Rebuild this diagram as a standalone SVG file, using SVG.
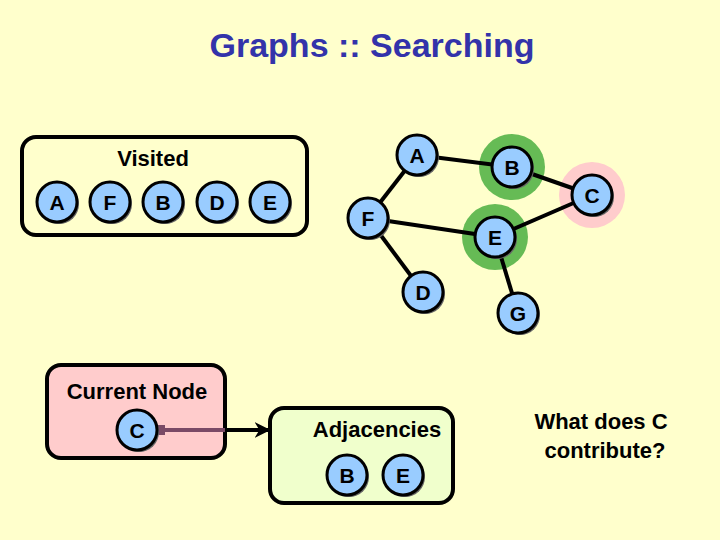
<svg xmlns="http://www.w3.org/2000/svg" width="720" height="540" viewBox="0 0 720 540">
<defs>
<style>
text{font-family:"Liberation Sans",Arial,sans-serif;font-weight:bold;text-anchor:middle;fill:#000}
.title{font-size:34px;fill:#3333aa}
.lbl{font-size:22px}
.nl{font-size:21px}
.nd{fill:#99ccff;stroke:#000;stroke-width:3}
.sh{fill:#666}
.box{stroke:#000;stroke-width:4}
.edge{stroke:#000;stroke-width:4;fill:none}
</style>
<g id="node-shape">
<circle class="sh" cx="2" cy="2" r="20"/>
<circle class="nd" cx="0" cy="0" r="20"/>
</g>
<marker id="arr" viewBox="0 0 10 10" refX="9" refY="5" markerWidth="4" markerHeight="4" orient="auto" markerUnits="strokeWidth">
<path d="M0,0 L10,5 L0,10 L3,5 z" fill="#000"/>
</marker>
<marker id="sq" viewBox="0 0 10 10" refX="5" refY="5" markerWidth="2.5" markerHeight="2.5" orient="auto" markerUnits="strokeWidth">
<rect x="0" y="0" width="10" height="10" fill="#7a4a66"/>
</marker>
</defs>
<rect width="720" height="540" fill="#ffffcc"/>
<text class="title" x="372" y="57">Graphs :: Searching</text>

<g id="visited">
<rect class="box" x="22" y="137" width="285" height="98" rx="14" fill="#ffffcc"/>
<text class="lbl" x="153" y="166">Visited</text>
<g id="v-A"><use href="#node-shape" x="57" y="202"/><text class="nl" x="57" y="210">A</text></g>
<g id="v-F"><use href="#node-shape" x="110" y="202"/><text class="nl" x="110" y="210">F</text></g>
<g id="v-B"><use href="#node-shape" x="163" y="202"/><text class="nl" x="163" y="210">B</text></g>
<g id="v-D"><use href="#node-shape" x="217" y="202"/><text class="nl" x="217" y="210">D</text></g>
<g id="v-E"><use href="#node-shape" x="270" y="202"/><text class="nl" x="270" y="210">E</text></g>
</g>

<g id="halos">
<circle cx="512" cy="167" r="33" fill="#66bb55"/>
<circle cx="495" cy="237" r="33" fill="#66bb55"/>
<circle cx="592" cy="195" r="33" fill="#ffcccc"/>
</g>

<g id="connectors">
<line class="edge" x1="417" y1="155" x2="512" y2="167"/>
<line class="edge" x1="512" y1="167" x2="592" y2="195"/>
<line class="edge" x1="592" y1="195" x2="495" y2="237"/>
<line class="edge" x1="368" y1="218" x2="495" y2="237"/>
<line class="edge" x1="417" y1="155" x2="368" y2="218"/>
<line class="edge" x1="368" y1="218" x2="423" y2="292"/>
<line class="edge" x1="495" y1="237" x2="518" y2="313"/>
</g>

<g id="g-A"><use href="#node-shape" x="417" y="155"/><text class="nl" x="417" y="163">A</text></g>
<g id="g-B"><use href="#node-shape" x="512" y="167"/><text class="nl" x="512" y="175">B</text></g>
<g id="g-C"><use href="#node-shape" x="592" y="195"/><text class="nl" x="592" y="203">C</text></g>
<g id="g-F"><use href="#node-shape" x="368" y="218"/><text class="nl" x="368" y="226">F</text></g>
<g id="g-E"><use href="#node-shape" x="495" y="237"/><text class="nl" x="495" y="245">E</text></g>
<g id="g-D"><use href="#node-shape" x="423" y="292"/><text class="nl" x="423" y="300">D</text></g>
<g id="g-G"><use href="#node-shape" x="518" y="313"/><text class="nl" x="518" y="321">G</text></g>

<g id="current">
<rect class="box" x="47" y="365" width="178" height="93" rx="14" fill="#ffcccc"/>
<text class="lbl" x="137" y="399">Current Node</text>
</g>

<g id="adjacencies">
<rect class="box" x="270" y="408" width="183" height="95" rx="14" fill="#f0ffcc"/>
<text class="lbl" x="377" y="437" font-size="20px">Adjacencies</text>
<g id="a-B"><use href="#node-shape" x="347" y="475"/><text class="nl" x="347" y="483">B</text></g>
<g id="a-E"><use href="#node-shape" x="403" y="475"/><text class="nl" x="403" y="483">E</text></g>
</g>

<g id="link">
<line x1="160" y1="430" x2="225" y2="430" stroke="#7a4a66" stroke-width="4" marker-start="url(#sq)"/>
<line x1="225" y1="430" x2="269" y2="430" stroke="#000" stroke-width="4" marker-end="url(#arr)"/>
</g>

<g id="c-current"><use href="#node-shape" x="137" y="430"/><text class="nl" x="137" y="438">C</text></g>

<g id="question">
<text class="lbl" x="601" y="429" font-size="23px">What does C</text>
<text class="lbl" x="605" y="458" font-size="23px">contribute?</text>
</g>
</svg>
